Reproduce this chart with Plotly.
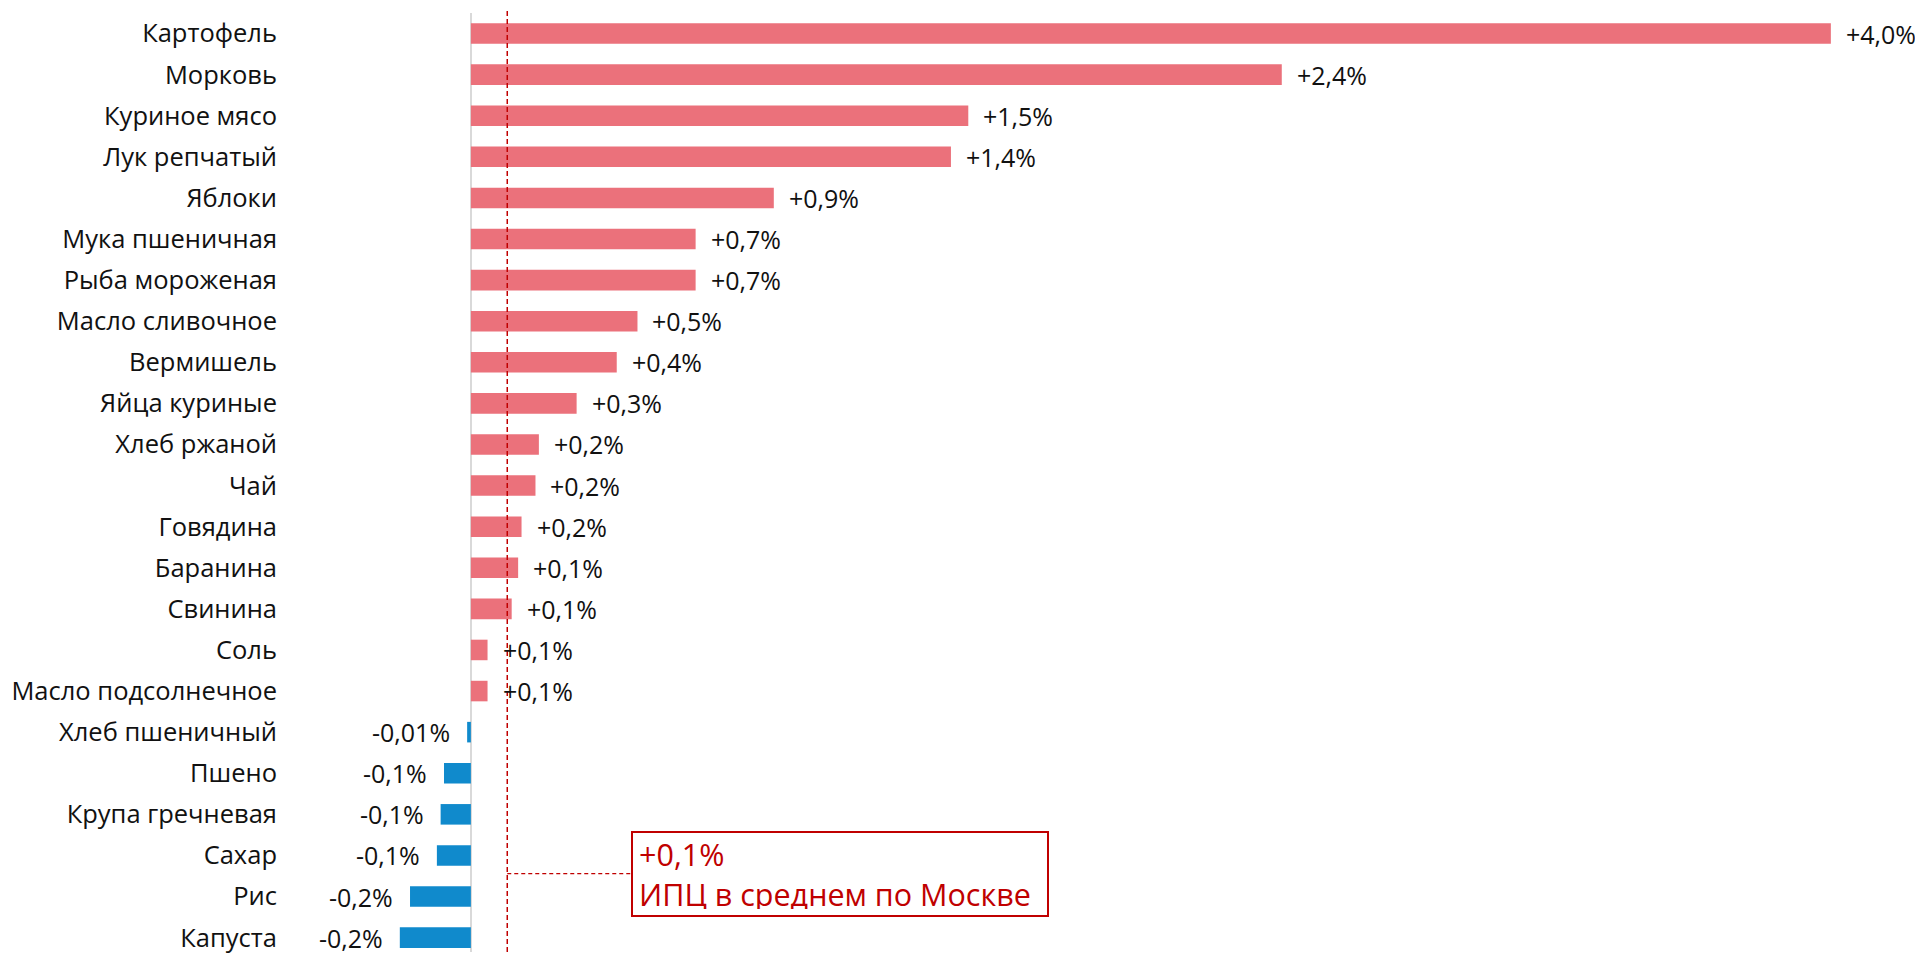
import plotly.graph_objects as go

categories = [
    "Картофель", "Морковь", "Куриное мясо", "Лук репчатый", "Яблоки",
    "Мука пшеничная", "Рыба мороженая", "Масло сливочное", "Вермишель",
    "Яйца куриные", "Хлеб ржаной", "Чай", "Говядина", "Баранина", "Свинина",
    "Соль", "Масло подсолнечное", "Хлеб пшеничный", "Пшено",
    "Крупа гречневая", "Сахар", "Рис", "Капуста",
]
values = [
    4.00, 2.385, 1.463, 1.412, 0.891,
    0.661, 0.661, 0.490, 0.429,
    0.311, 0.200, 0.190, 0.149, 0.139, 0.120,
    0.049, 0.049, -0.011, -0.079,
    -0.089, -0.100, -0.179, -0.209,
]
value_labels = [
    "+4,0%", "+2,4%", "+1,5%", "+1,4%", "+0,9%",
    "+0,7%", "+0,7%", "+0,5%", "+0,4%",
    "+0,3%", "+0,2%", "+0,2%", "+0,2%", "+0,1%", "+0,1%",
    "+0,1%", "+0,1%", "-0,01%", "-0,1%",
    "-0,1%", "-0,1%", "-0,2%", "-0,2%",
]
cpi_value = 0.107
cpi_text = "+0,1%<br>ИПЦ в среднем по Москве"

POS = "#EB717B"
NEG = "#108ACC"
RED = "#C00000"
FONT = "Open Sans"

colors = [POS if v >= 0 else NEG for v in values]

fig = go.Figure()
fig.add_trace(go.Bar(
    x=values, y=categories, orientation="h",
    marker=dict(color=colors, line=dict(width=0)),
    width=0.5, hoverinfo="skip",
))

for cat, v, lab in zip(categories, values, value_labels):
    fig.add_annotation(
        x=v, y=cat, xref="x", yref="y", text=lab, showarrow=False,
        xanchor="left" if v >= 0 else "right",
        xshift=13 if v >= 0 else -15,
        font=dict(family=FONT, size=25, color="#111111"),
    )

# CPI dashed reference line
fig.add_shape(type="line", xref="x", yref="paper",
              x0=cpi_value, x1=cpi_value, y0=0, y1=1.003,
              line=dict(color=RED, width=1.5, dash="5px,3px"))
# connector to the callout box
box_x = 0.47
box_y = 0.0835
fig.add_shape(type="line", xref="x", yref="paper",
              x0=cpi_value, x1=box_x, y0=box_y, y1=box_y,
              line=dict(color=RED, width=1.2, dash="4px,3px"))
fig.add_annotation(
    x=box_x, y=box_y, xref="x", yref="paper", xanchor="left", yanchor="middle",
    text=cpi_text, showarrow=False, align="left",
    font=dict(family=FONT, size=30.5, color=RED),
    bordercolor=RED, borderwidth=2, borderpad=6, bgcolor="white",
    width=402, height=70,
)

fig.update_layout(
    width=1915, height=946,
    margin=dict(l=282, r=0, t=5, b=0),
    paper_bgcolor="white", plot_bgcolor="white",
    showlegend=False,
    font=dict(family=FONT, size=25.5, color="#111111"),
    xaxis=dict(range=[-0.532, 4.271], showgrid=False, showticklabels=False,
               zeroline=True, zerolinecolor="#d9d9d9", zerolinewidth=2,
               fixedrange=True),
    yaxis=dict(type="category", categoryorder="array", categoryarray=categories,
               range=[22.35, -0.5], showgrid=False, zeroline=False,
               ticks="", ticklabelstandoff=12,
               tickfont=dict(family=FONT, size=25.5, color="#111111")),
)

fig.write_html("out.html")
